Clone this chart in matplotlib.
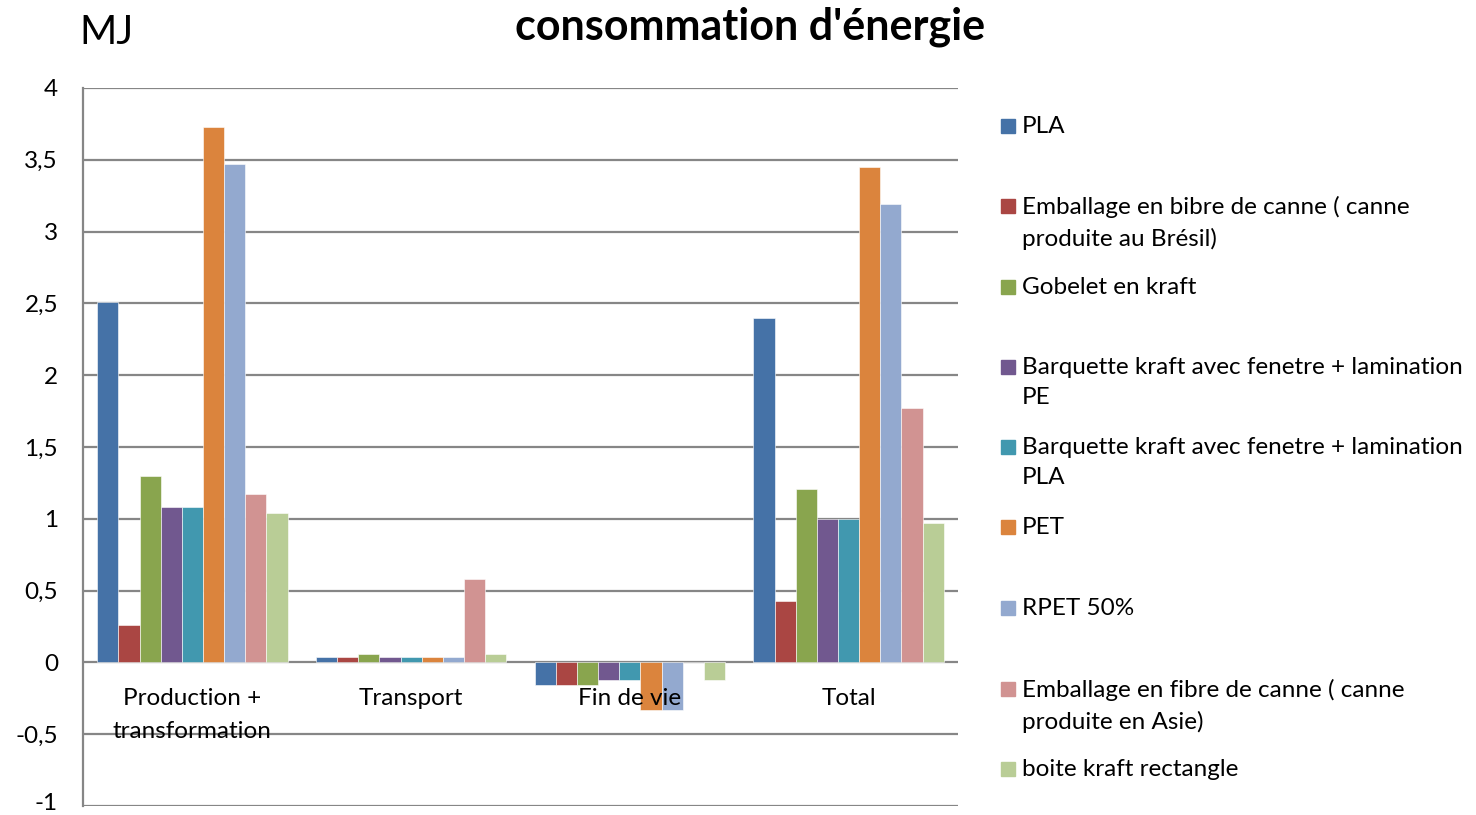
import numpy as np
import matplotlib.pyplot as plt
import matplotlib.transforms as mtransforms
from matplotlib.patches import Rectangle

plt.rcParams['font.family'] = ['Lato', 'DejaVu Sans']

categories = ["Production +\ntransformation", "Transport", "Fin de vie", "Total"]
series = [
    "PLA",
    "Emballage en bibre de canne ( canne\nproduite au Brésil)",
    "Gobelet en kraft",
    "Barquette kraft avec fenetre + lamination\nPE",
    "Barquette kraft avec fenetre + lamination\nPLA",
    "PET",
    "RPET 50%",
    "Emballage en fibre de canne ( canne\nproduite en Asie)",
    "boite kraft rectangle",
]
# one row per series: production, transport, fin de vie, total (MJ)
pla = [2.51, 0.04, -0.16, 2.40]
canne_bresil = [0.26, 0.04, -0.16, 0.43]
gobelet = [1.30, 0.06, -0.16, 1.21]
barquette_pe = [1.08, 0.04, -0.12, 1.00]
barquette_pla = [1.08, 0.04, -0.12, 1.00]
pet = [3.73, 0.04, -0.33, 3.45]
rpet = [3.47, 0.04, -0.33, 3.19]
canne_asie = [1.17, 0.58, 0.0, 1.77]
boite = [1.04, 0.06, -0.12, 0.97]
values = [pla, canne_bresil, gobelet, barquette_pe, barquette_pla,
          pet, rpet, canne_asie, boite]
colors = ["#4572A7", "#AA4643", "#89A54E", "#71588F", "#4198AF",
          "#DB843D", "#93A9CF", "#D19392", "#B9CD96"]

W, H = 1476, 815
fig = plt.figure(figsize=(W/100, H/100), dpi=100)
ax = fig.add_axes([83/W, 1-806/H, 875/W, 718/H])

n = len(series)
width = 0.87 / n
x = np.arange(len(categories))
for i, (vals, c) in enumerate(zip(values, colors)):
    ax.bar(x - 0.435 + width*(i+0.5), vals, width, color=c,
           edgecolor='white', linewidth=0.4, zorder=3)

ax.set_xlim(-0.5, len(categories)-0.5)
ax.set_ylim(-1, 4)
ticks = np.arange(-1, 4.01, 0.5)
ax.set_yticks(ticks)
ax.set_yticklabels([("%g" % t).replace('.', ',') for t in ticks], fontsize=17.5)
ax.tick_params(axis='y', length=0, pad=18)
ax.set_xticks([])
ax.yaxis.grid(True, color='#868686', linewidth=1.6, zorder=1)
for s in ['top', 'right', 'bottom']:
    ax.spines[s].set_visible(False)
ax.spines['left'].set_color('#868686')
ax.spines['left'].set_linewidth(1.6)

# nudge the lowest tick label up so it stays inside the figure
lowest = ax.get_yticklabels()[0]
lowest.set_transform(lowest.get_transform() +
                     mtransforms.ScaledTranslation(0, 5/100, fig.dpi_scale_trans))

for xi, lab in zip(x, categories):
    ax.text(xi, -0.18, lab, ha='center', va='top', fontsize=17.5,
            linespacing=1.7, zorder=4)

fig.text(750/W, 1-27/H, "consommation d'énergie", ha='center',
         va='center', fontsize=31, fontweight='bold')
fig.text(79/W, 1-33/H, "MJ", ha='left', va='center', fontsize=29)

# legend on the right
ys = [126, 206, 287, 367, 447, 527, 608, 689, 769]
for lab, c, yy in zip(series, colors, ys):
    fig.patches.append(Rectangle((1001/W, 1-(yy+7)/H), 14/W, 14/H,
                                 transform=fig.transFigure, color=c))
    fig.text(1022/W, 1-(yy-10)/H, lab, ha='left', va='top', fontsize=17.5,
             linespacing=1.55)

fig.savefig("out.png", dpi=100)
